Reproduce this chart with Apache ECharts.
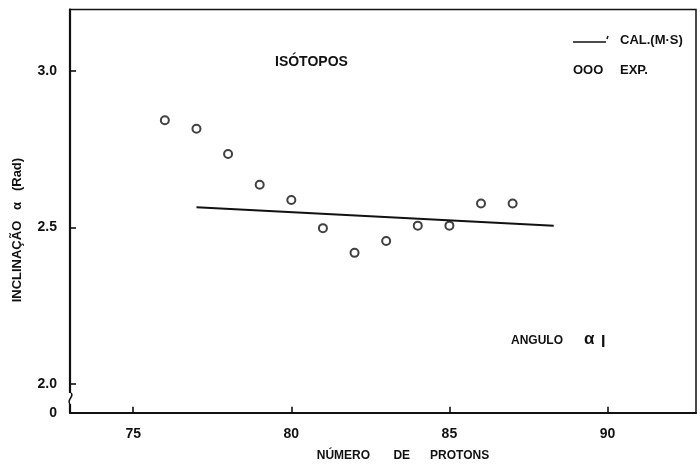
<!DOCTYPE html>
<html>
<head>
<meta charset="utf-8">
<script src="https://cdn.jsdelivr.net/npm/echarts@6/dist/echarts.min.js"></script>
<style>
  html, body { margin: 0; padding: 0; background: #fff; }
  #chart { width: 700px; height: 464px; }
</style>
</head>
<body>
<div id="chart"></div>
<script>
// Experimental inclination (rad) against proton number
const protonNumbers = [76, 77, 78, 79, 80, 81, 82, 83, 84, 85, 86, 87];
const expSlope = [2.843, 2.816, 2.735, 2.637, 2.588, 2.498, 2.419, 2.457, 2.506, 2.506, 2.577, 2.577];

// Calculated (M-S) straight line, end points
const calcProtons = [77, 88.3];
const calcSlope = [2.565, 2.506];

// Axis ticks and labels
const xTickValues = [75, 80, 85, 90];
const yTickValues = [2.0, 2.5, 3.0];
const yBreakValue = 1.908;   // bottom of the broken axis, labelled "0"
const yBreakLabel = '0';

const ink = '#111';
const font = 'Liberation Sans';

const expData = protonNumbers.map((p, i) => [p, expSlope[i]]);
const calcData = calcProtons.map((p, i) => [p, calcSlope[i]]);

const chart = echarts.init(document.getElementById('chart'), null, { renderer: 'canvas' });

chart.setOption({
  backgroundColor: '#fff',
  animation: false,
  grid: {
    left: 70, right: 4, top: 9.5, bottom: 51.3,
    outerBoundsMode: 'none',
    show: true, borderColor: ink, borderWidth: 1.5, backgroundColor: 'transparent'
  },
  xAxis: {
    type: 'value',
    min: 73, max: 92.8,
    name: 'NÚMERO       DE      PROTONS',
    nameLocation: 'middle',
    nameGap: 37,
    nameTextStyle: { color: ink, fontFamily: font, fontWeight: 'bold', fontSize: 12, letterSpacing: 0.6, padding: [0, 0, 0, 40] },
    axisLine: { lineStyle: { color: ink, width: 2.2 } },
    axisTick: { show: true, inside: true, length: 6, lineStyle: { color: ink, width: 1.6 }, customValues: xTickValues },
    axisLabel: { color: ink, fontFamily: font, fontWeight: 'bold', fontSize: 14, margin: 14, customValues: xTickValues },
    splitLine: { show: false }
  },
  yAxis: {
    type: 'value',
    min: yBreakValue, max: 3.197,
    name: 'INCLINAÇÃO   α   (Rad)',
    nameLocation: 'middle',
    nameGap: 46,
    nameTextStyle: { color: ink, fontFamily: font, fontWeight: 'bold', fontSize: 13, letterSpacing: 1.6, padding: [0, 38, 0, 0] },
    axisLine: { lineStyle: { color: ink, width: 2.2 } },
    axisTick: { show: true, inside: true, length: 6, lineStyle: { color: ink, width: 1.6 }, customValues: yTickValues },
    axisLabel: {
      color: ink, fontFamily: font, fontWeight: 'bold', fontSize: 14, margin: 13,
      customValues: [yBreakValue].concat(yTickValues),
      formatter: v => (v < 1.95 ? yBreakLabel : v.toFixed(1))
    },
    splitLine: { show: false }
  },
  series: [
    {
      name: 'CAL.(M·S)',
      type: 'line',
      data: calcData,
      symbol: 'none',
      lineStyle: { color: ink, width: 2 },
      z: 3
    },
    {
      name: 'EXP.',
      type: 'scatter',
      data: expData,
      symbol: 'circle',
      symbolSize: 8,
      itemStyle: { color: '#fff', borderColor: ink, borderWidth: 2 },
      z: 4
    }
  ],
  graphic: [
    // break in the vertical axis near its foot
    { type: 'rect', shape: { x: 66, y: 393, width: 8, height: 11 }, style: { fill: '#fff' }, z: 100 },
    { type: 'bezierCurve', shape: { x1: 71, y1: 393, cpx1: 75, cpy1: 396, cpx2: 66, cpy2: 400, x2: 70, y2: 404 }, style: { fill: 'none', stroke: ink, lineWidth: 1.5 }, z: 101 },
    // annotations
    { type: 'text', left: 275, top: 55, style: { text: 'ISÓTOPOS', fill: ink, font: 'bold 14px "Liberation Sans"', letterSpacing: 0.6 }, z: 50 },
    { type: 'text', left: 511, top: 335, style: { text: 'ANGULO', fill: ink, font: 'bold 12px "Liberation Sans"', letterSpacing: 0.4 }, z: 50 },
    { type: 'text', left: 584, top: 331, style: { text: 'α', fill: ink, font: 'bold 17px "Liberation Sans"' }, z: 50 },
    { type: 'text', left: 601, top: 335, style: { text: 'I', fill: ink, font: 'bold 16px "Liberation Sans"' }, z: 50 },
    // key
    { type: 'line', shape: { x1: 573, y1: 42, x2: 606, y2: 42 }, style: { stroke: ink, lineWidth: 1.5 }, z: 50 },
    { type: 'line', shape: { x1: 608, y1: 36, x2: 607, y2: 39 }, style: { stroke: ink, lineWidth: 1.5 }, z: 50 },
    { type: 'text', left: 620, top: 34, style: { text: 'CAL.(M·S)', fill: ink, font: 'bold 13px "Liberation Sans"', letterSpacing: 1.4 }, z: 50 },
    { type: 'text', left: 573, top: 64, style: { text: 'OOO', fill: ink, font: 'bold 13px "Liberation Sans"', letterSpacing: 1.5 }, z: 50 },
    { type: 'text', left: 620, top: 64, style: { text: 'EXP.', fill: ink, font: 'bold 13px "Liberation Sans"' }, z: 50 }
  ]
});
</script>
</body>
</html>
